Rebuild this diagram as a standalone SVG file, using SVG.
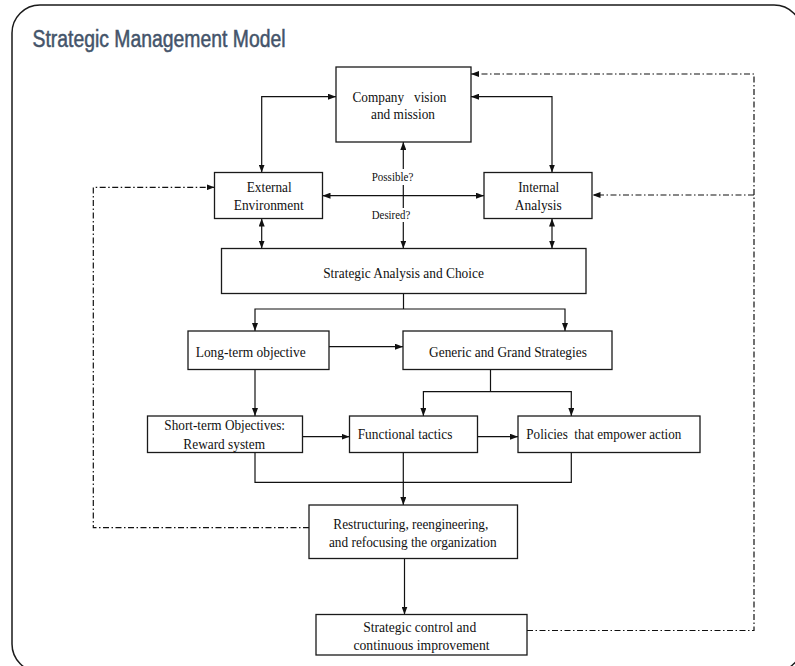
<svg xmlns="http://www.w3.org/2000/svg" width="795" height="666" viewBox="0 0 795 666">
<defs>
<style>
.box{fill:#fff;stroke:#1a1a1a;stroke-width:1.3}
.t{font-family:"Liberation Serif","Times New Roman",serif;font-size:14.5px;fill:#111;text-anchor:middle}
.s{font-size:12px}
.ln{fill:none;stroke:#111;stroke-width:1.2}
.dd{fill:none;stroke:#111;stroke-width:1.2;stroke-dasharray:6 2.5 1.5 2.5}
.title{font-family:"Liberation Sans",Arial,sans-serif;font-size:23px;fill:#44546a;stroke:#44546a;stroke-width:0.5}
</style>
<marker id="ah" markerUnits="userSpaceOnUse" markerWidth="8" markerHeight="6" viewBox="0 0 8 6" refX="8" refY="3" orient="auto-start-reverse">
<path d="M0,0 L8,3 L0,6 Z" fill="#111"/>
</marker>
</defs>
<rect width="795" height="666" fill="#fff"/>
<path d="M12,640 V33 A28,28 0 0 1 40,5 H774 A28,28 0 0 1 802,33 V644 A28,28 0 0 1 774,672 H40 A28,28 0 0 1 12,644 Z" fill="none" stroke="#1a1a1a" stroke-width="1.5"/>
<text class="title" x="32.5" y="47" textLength="253" lengthAdjust="spacingAndGlyphs">Strategic Management Model</text>

<g id="connectors">
<path class="ln" d="M261.7,172.5 V96.7 H336" marker-start="url(#ah)" marker-end="url(#ah)"/>
<path class="ln" d="M471,96.7 H552 V172.5" marker-start="url(#ah)" marker-end="url(#ah)"/>
<path class="ln" d="M322.5,195.7 H484" marker-start="url(#ah)" marker-end="url(#ah)"/>
<path class="ln" d="M403.3,169 V142" marker-end="url(#ah)"/>
<path class="ln" d="M403.3,185 V208"/>
<path class="ln" d="M403.3,222 V248.5" marker-end="url(#ah)"/>
<path class="ln" d="M261.7,218.5 V248.5" marker-start="url(#ah)" marker-end="url(#ah)"/>
<path class="ln" d="M552,218.5 V248.5" marker-start="url(#ah)" marker-end="url(#ah)"/>
<path class="ln" d="M403.5,293.5 V309"/>
<path class="ln" d="M255,331 V309 H565 V331" marker-start="url(#ah)" marker-end="url(#ah)"/>
<path class="ln" d="M329,346.7 H403" marker-end="url(#ah)"/>
<path class="ln" d="M255,369.5 V416" marker-end="url(#ah)"/>
<path class="ln" d="M490.5,369.5 V391.7"/>
<path class="ln" d="M423.4,416 V391.7 H571.3 V416" marker-start="url(#ah)" marker-end="url(#ah)"/>
<path class="ln" d="M302.5,436.7 H349.5" marker-end="url(#ah)"/>
<path class="ln" d="M477.5,436.7 H518" marker-end="url(#ah)"/>
<path class="ln" d="M255,452.5 V482.3 H571.3 V452.5"/>
<path class="ln" d="M403.3,452.5 V505" marker-end="url(#ah)"/>
<path class="ln" d="M404.5,558.5 V614.5" marker-end="url(#ah)"/>
<path class="dd" d="M309,527.7 H93.3 V187.3 H214.5" marker-end="url(#ah)"/>
<path class="dd" d="M527,630.5 H754 V74 H471" marker-end="url(#ah)"/>
<path class="dd" d="M754,195 H592.5" marker-end="url(#ah)"/>
</g>

<g id="labels">
<text class="t s" x="392.5" y="181" textLength="41.7" lengthAdjust="spacingAndGlyphs">Possible?</text>
<text class="t s" x="391" y="219" textLength="38.5" lengthAdjust="spacingAndGlyphs">Desired?</text>
</g>

<g id="n-vision">
<rect class="box" x="336" y="67" width="135" height="75"/>
<text class="t" x="399.5" y="101.5" textLength="94" lengthAdjust="spacingAndGlyphs" xml:space="preserve">Company   vision</text>
<text class="t" x="403" y="119" textLength="64" lengthAdjust="spacingAndGlyphs">and mission</text>
</g>
<g id="n-external">
<rect class="box" x="214.5" y="172.5" width="108" height="46"/>
<text class="t" x="269.2" y="191.5" textLength="45" lengthAdjust="spacingAndGlyphs">External</text>
<text class="t" x="268.7" y="210" textLength="70" lengthAdjust="spacingAndGlyphs">Environment</text>
</g>
<g id="n-internal">
<rect class="box" x="484" y="172.5" width="108" height="46"/>
<text class="t" x="538.7" y="191.5" textLength="41" lengthAdjust="spacingAndGlyphs">Internal</text>
<text class="t" x="538.3" y="210" textLength="47" lengthAdjust="spacingAndGlyphs">Analysis</text>
</g>
<g id="n-analysis">
<rect class="box" x="221.5" y="248.5" width="364.5" height="45"/>
<text class="t" x="403.5" y="277.5" textLength="160.7" lengthAdjust="spacingAndGlyphs">Strategic Analysis and Choice</text>
</g>
<g id="n-longterm">
<rect class="box" x="188" y="331" width="141" height="38.5"/>
<text class="t" x="250.7" y="356.5" textLength="110" lengthAdjust="spacingAndGlyphs">Long-term objective</text>
</g>
<g id="n-generic">
<rect class="box" x="403" y="331" width="209" height="38.5"/>
<text class="t" x="508" y="356.5" textLength="157.8" lengthAdjust="spacingAndGlyphs">Generic and Grand Strategies</text>
</g>
<g id="n-shortterm">
<rect class="box" x="147.5" y="416" width="155" height="36.5"/>
<text class="t" x="224.7" y="430" textLength="120.7" lengthAdjust="spacingAndGlyphs">Short-term Objectives:</text>
<text class="t" x="224.2" y="448.5" textLength="81.7" lengthAdjust="spacingAndGlyphs">Reward system</text>
</g>
<g id="n-functional">
<rect class="box" x="349.5" y="416" width="128" height="36.5"/>
<text class="t" x="405" y="439" textLength="94.7" lengthAdjust="spacingAndGlyphs">Functional tactics</text>
</g>
<g id="n-policies">
<rect class="box" x="518" y="416" width="182" height="36.5"/>
<text class="t" x="603.8" y="439" textLength="155" lengthAdjust="spacingAndGlyphs" xml:space="preserve">Policies  that empower action</text>
</g>
<g id="n-restructuring">
<rect class="box" x="309" y="505" width="208.5" height="53.5"/>
<text class="t" x="410.8" y="529" textLength="155" lengthAdjust="spacingAndGlyphs">Restructuring, reengineering,</text>
<text class="t" x="412.8" y="547" textLength="167.7" lengthAdjust="spacingAndGlyphs">and refocusing the organization</text>
</g>
<g id="n-control">
<rect class="box" x="316" y="614.5" width="211" height="40.5"/>
<text class="t" x="419.7" y="631.5" textLength="113" lengthAdjust="spacingAndGlyphs">Strategic control and</text>
<text class="t" x="421.5" y="650" textLength="136" lengthAdjust="spacingAndGlyphs">continuous improvement</text>
</g>
</svg>
